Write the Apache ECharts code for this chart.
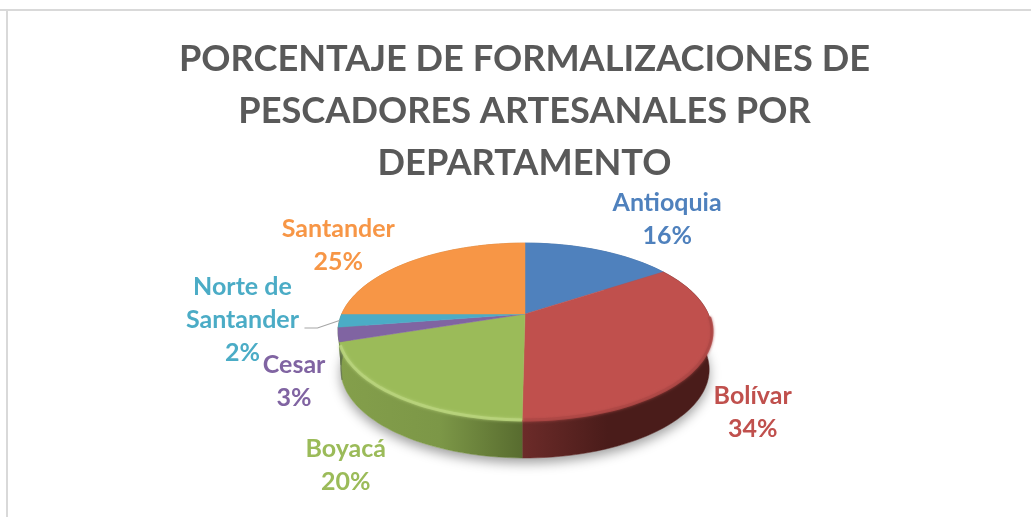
<!DOCTYPE html>
<html>
<head>
<meta charset="utf-8">
<style>html,body{margin:0;padding:0;background:#fff}#chart{width:1031px;height:517px}</style>
<script src="https://cdn.jsdelivr.net/npm/echarts@6/dist/echarts.min.js"></script>
</head>
<body>
<div id="chart"></div>
<script>
// ---- data ----
const titleText = 'PORCENTAJE DE FORMALIZACIONES DE\nPESCADORES ARTESANALES POR\nDEPARTAMENTO';
const categories = ['Antioquia', 'Bolívar', 'Boyacá', 'Cesar', 'Norte de\nSantander', 'Santander'];
const values = [15.75, 34.45, 19.8, 2.6, 2.4, 25];

// ---- styling ----
const colors = ['#4f81bd', '#c0504d', '#9bbb59', '#8064a2', '#4bacc6', '#f79646'];
const wallStops = [
  ['#3f6797', '#3f6797'],
  ['#6c2b29', '#4a1c1a'],
  ['#849f4b', '#586c2f'],
  ['#5f7048', '#5f7048'],
  ['#5f7048', '#5f7048'],
  ['#c5762f', '#c5762f']
];
const rimColors = ['#4f81bd', '#ae4845', '#b9d47c', '#8064a2', '#4bacc6', '#f79646'];
const labelOffsets = [[68, -31], [50, 53], [-50, 70], [-44, 47], [-97, -1], [-73, -16]];

// ---- perspective projection of the pie plane ----
const geo = { cx: 525, cy: 314, rx: 183.3, ry: 85, k: 0.198, depth: 38, bottomScale: 0.985 };
function project(deg) {
  const t = deg * Math.PI / 180, u = Math.cos(t), v = Math.sin(t), d = 1 + geo.k * u;
  return [geo.cx + geo.rx * v / d, geo.cy - geo.ry * u / d];
}
function lower(p) {
  return [geo.cx + (p[0] - geo.cx) * geo.bottomScale, p[1] + geo.depth];
}
function arc(a0, a1) {
  const n = Math.max(2, Math.ceil(Math.abs(a1 - a0) / 2)), out = [];
  for (let i = 0; i <= n; i++) out.push(project(a0 + (a1 - a0) * i / n));
  return out;
}
const total = values.reduce((a, b) => a + b, 0);
function sliceAngles(i) {
  let before = 0;
  for (let j = 0; j < i; j++) before += values[j];
  return [before / total * 360, (before + values[i]) / total * 360];
}
const seriesData = values.map((v, i) => ({ name: categories[i], value: v }));

function renderShadow(params) {
  if (params.dataIndex !== 0) return { type: 'group', children: [] };
  const ring = arc(0, 360).map(lower);
  return {
    type: 'polygon',
    shape: { points: ring },
    style: { fill: '#fff', shadowBlur: 12, shadowColor: 'rgba(0,0,0,0.38)', shadowOffsetY: 5 },
    silent: true
  };
}
function renderWall(params) {
  const i = params.dataIndex, a = sliceAngles(i);
  const top = arc(a[0], a[1]);
  const pts = top.concat(top.map(lower).reverse());
  const xs = pts.map(p => p[0]);
  const fill = new echarts.graphic.LinearGradient(Math.min.apply(null, xs), 0, Math.max.apply(null, xs), 0,
    i === 1
      ? [{ offset: 0, color: wallStops[i][0] }, { offset: 0.45, color: wallStops[i][1] }, { offset: 1, color: wallStops[i][1] }]
      : [{ offset: 0, color: wallStops[i][0] }, { offset: 0.55, color: '#7c9747' }, { offset: 1, color: wallStops[i][1] }].filter(s => i === 2 || s.offset !== 0.55),
    true);
  return { type: 'polygon', shape: { points: pts }, style: { fill: fill, stroke: fill, lineWidth: 0.5 } };
}
function renderTop(params) {
  const i = params.dataIndex, a = sliceAngles(i);
  const pts = [[geo.cx, geo.cy]].concat(arc(a[0], a[1]));
  const children = [{
    type: 'polygon', shape: { points: pts }, style: { fill: colors[i], stroke: colors[i], lineWidth: 0.5 }
  }];
  // bevelled rim, only on the front half of the pie
  const r0 = Math.max(a[0], 92), r1 = Math.min(a[1], 250);
  if (r1 > r0) {
    children.push({
      type: 'polyline', shape: { points: arc(r0, r1) },
      style: { fill: null, stroke: rimColors[i], lineWidth: 3, opacity: 0.85, shadowBlur: 3, shadowColor: rimColors[i] }
    });
  }
  return { type: 'group', children: children };
}
function renderLabel(params, api) {
  const i = params.dataIndex, a = sliceAngles(i);
  const rim = project((a[0] + a[1]) / 2);
  const off = labelOffsets[i];
  const pct = Math.round(api.value(0) / total * 100) + '%';
  const children = [{
    type: 'text',
    style: {
      text: categories[i] + '\n' + pct,
      x: rim[0] + off[0], y: rim[1] + off[1],
      fill: colors[i], font: 'bold 25px Lato', align: 'center', verticalAlign: 'middle', lineHeight: 33
    }
  }];
  if (categories[i].indexOf('\n') >= 0) {
    // leader line from the rim of the slice to its label
    children.push({
      type: 'polyline',
      shape: { points: [rim, [rim[0] - 22, rim[1] + 7.5], [rim[0] - 35, rim[1] + 7.5]] },
      style: { fill: null, stroke: '#a6a6a6', lineWidth: 1.2 }
    });
  }
  return { type: 'group', children: children };
}

const chart = echarts.init(document.getElementById('chart'), null, { renderer: 'canvas' });
chart.setOption({
  animation: false,
  backgroundColor: '#ffffff',
  title: {
    text: titleText,
    left: 519.5, top: 28, textAlign: 'center',
    textStyle: { fontFamily: 'Lato', fontWeight: 'bold', fontSize: 36.2, lineHeight: 52, color: '#595959' }
  },
  graphic: [
    { type: 'line', shape: { x1: 0, y1: 10, x2: 1031, y2: 10 }, style: { stroke: '#d9d9d9', lineWidth: 2 }, silent: true },
    { type: 'line', shape: { x1: 7, y1: 10, x2: 7, y2: 517 }, style: { stroke: '#d9d9d9', lineWidth: 2 }, silent: true }
  ],
  series: [
    { type: 'custom', coordinateSystem: 'none', z: 1, silent: true, data: seriesData, renderItem: renderShadow },
    { type: 'custom', coordinateSystem: 'none', z: 2, silent: true, data: seriesData, renderItem: renderWall },
    { type: 'custom', coordinateSystem: 'none', z: 3, silent: true, data: seriesData, renderItem: renderTop },
    { type: 'custom', coordinateSystem: 'none', z: 4, silent: true, data: seriesData, renderItem: renderLabel }
  ]
});
</script>
</body>
</html>
